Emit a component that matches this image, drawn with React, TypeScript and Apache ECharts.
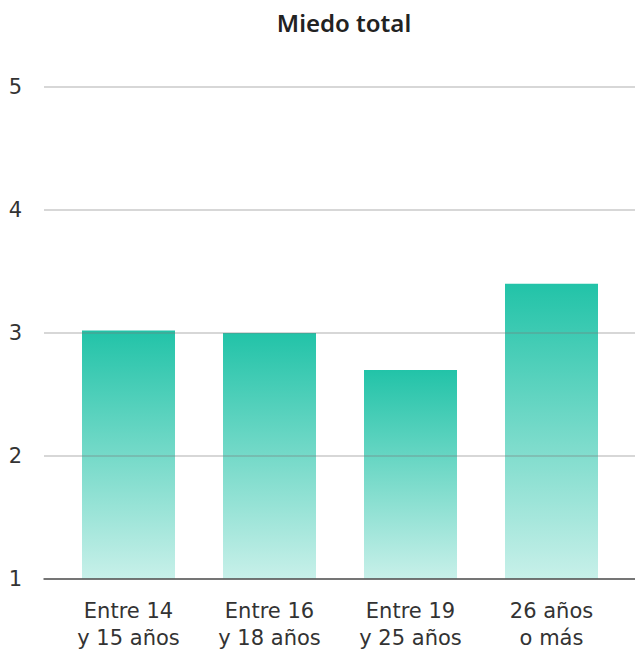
import React, { useEffect, useRef } from "react";
import * as echarts from "echarts";

const categories = ["Entre 14\ny 15 años", "Entre 16\ny 18 años", "Entre 19\ny 25 años", "26 años\no más"];
const values = [3.02, 3.0, 2.7, 3.4];
const yMin = 1;
const yMax = 5;
const yInterval = 1;
const title = "Miedo total";

export default function App() {
  const ref = useRef<HTMLDivElement>(null);
  useEffect(() => {
    document.body.style.margin = "0";
    const chart = echarts.init(ref.current!, null, { renderer: "svg" });
    const titleFont = "'Noto Sans', sans-serif";
    const font = "'DejaVu Sans', sans-serif";
    chart.setOption({
      animation: false,
      backgroundColor: "#ffffff",
      title: {
        text: title,
        left: 339,
        textAlign: "center",
        top: 5,
        textStyle: { fontFamily: titleFont, fontSize: 24, fontWeight: 600, color: "#222" },
      },
      grid: [
        { left: 44, right: 0, top: 87, bottom: 71, outerBoundsMode: "none", containLabel: false },
        { left: 58, right: 13, top: 87, bottom: 71, outerBoundsMode: "none", containLabel: false },
      ],
      xAxis: [
        {
          type: "category",
          gridIndex: 0,
          data: [""],
          axisLine: { show: true, lineStyle: { color: "#555", width: 1.5 } },
          axisTick: { show: false },
          axisLabel: { show: false },
          z: 4,
        },
        {
          type: "category",
          gridIndex: 1,
          data: categories,
          axisLine: { show: false },
          axisTick: { show: false },
          axisLabel: {
            color: "#333",
            fontFamily: font,
            fontSize: 21,
            lineHeight: 27,
            margin: 18,
          },
        },
      ],
      yAxis: [
        {
          type: "value",
          gridIndex: 0,
          min: yMin,
          max: yMax,
          interval: yInterval,
          axisLine: { show: false },
          axisTick: { show: false },
          axisLabel: { color: "#333", fontFamily: font, fontSize: 21, margin: 22 },
          splitLine: { show: true, lineStyle: { color: "rgba(120,120,120,0.4)", width: 1.5 } },
          z: 3,
        },
        {
          type: "value",
          gridIndex: 1,
          min: yMin,
          max: yMax,
          interval: yInterval,
          show: false,
          splitLine: { show: false },
        },
      ],
      series: [
        {
          type: "bar",
          xAxisIndex: 1,
          yAxisIndex: 1,
          data: values,
          barWidth: 93,
          z: 2,
          itemStyle: {
            color: new echarts.graphic.LinearGradient(0, 0, 0, 1, [
              { offset: 0, color: "rgba(34,195,168,1)" },
              { offset: 1, color: "rgba(34,195,168,0.25)" },
            ]),
          },
        },
      ],
    });
    return () => chart.dispose();
  }, []);
  return <div ref={ref} style={{ width: 635, height: 650 }} />;
}
